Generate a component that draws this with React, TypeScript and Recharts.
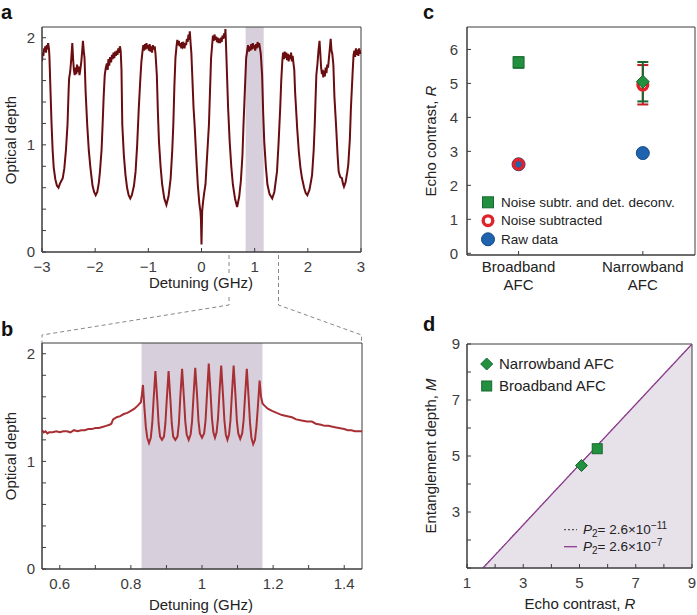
import React from 'react';
import { LineChart, Line, XAxis, YAxis, ReferenceArea, ComposedChart, Scatter, ErrorBar, Area } from 'recharts';

const FONT = '"Liberation Sans", Arial, Helvetica, sans-serif';
const AXIS = '#3c3c3c';
const TEXT = '#222';
const SHADE = '#d7d0dc';
const GREEN = '#22903f';
const GREEN_DARK = '#17692e';
const RED = '#e0222b';
const BLUE = '#1f62ad';
const PURPLE = '#8e3b90';

// panel a: optical depth over the full inhomogeneous line [detuning GHz, OD]
const spectrumA: [number, number][] = [
  [-3.0, 1.78], [-2.99, 1.86], [-2.975, 1.83], [-2.96, 1.9], [-2.95, 1.87], [-2.94, 1.92], [-2.925, 1.86],
  [-2.91, 1.93], [-2.9, 1.89], [-2.885, 1.95], [-2.87, 1.9], [-2.86, 1.82], [-2.84, 1.5], [-2.82, 1.19],
  [-2.8, 0.95], [-2.78, 0.79], [-2.75, 0.68], [-2.72, 0.62], [-2.69, 0.6], [-2.66, 0.64], [-2.63, 0.67],
  [-2.61, 0.69], [-2.58, 0.78], [-2.55, 0.95], [-2.52, 1.19], [-2.5, 1.5], [-2.49, 1.62], [-2.47, 1.68],
  [-2.45, 1.8], [-2.43, 1.95], [-2.415, 1.8], [-2.4, 1.7], [-2.385, 1.65], [-2.37, 1.72], [-2.355, 1.66],
  [-2.34, 1.75], [-2.325, 1.68], [-2.31, 1.73], [-2.295, 1.65], [-2.28, 1.7], [-2.26, 1.78], [-2.24, 1.9],
  [-2.23, 1.97], [-2.215, 1.88], [-2.2, 1.81], [-2.18, 1.5], [-2.15, 1.19], [-2.12, 0.95], [-2.09, 0.79],
  [-2.05, 0.62], [-2.02, 0.56], [-1.99, 0.53], [-1.96, 0.56], [-1.93, 0.65], [-1.91, 0.75], [-1.88, 0.95],
  [-1.86, 1.19], [-1.84, 1.45], [-1.82, 1.65], [-1.8, 1.72], [-1.78, 1.76], [-1.765, 1.7], [-1.75, 1.8],
  [-1.735, 1.74], [-1.72, 1.82], [-1.7, 1.77], [-1.685, 1.84], [-1.67, 1.8], [-1.655, 1.86], [-1.64, 1.81],
  [-1.625, 1.87], [-1.61, 1.83], [-1.595, 1.88], [-1.58, 1.84], [-1.565, 1.9], [-1.55, 1.86], [-1.535, 1.92],
  [-1.52, 1.88], [-1.505, 1.7], [-1.49, 1.19], [-1.46, 0.9], [-1.43, 0.72], [-1.4, 0.6], [-1.37, 0.53],
  [-1.34, 0.5], [-1.31, 0.53], [-1.27, 0.62], [-1.24, 0.75], [-1.21, 1.0], [-1.18, 1.34], [-1.15, 1.62],
  [-1.13, 1.78], [-1.11, 1.87], [-1.095, 1.93], [-1.08, 1.88], [-1.065, 1.94], [-1.05, 1.89], [-1.035, 1.95],
  [-1.02, 1.9], [-1.005, 1.93], [-0.99, 1.88], [-0.975, 1.94], [-0.96, 1.87], [-0.945, 1.92], [-0.93, 1.86],
  [-0.915, 1.93], [-0.9, 1.89], [-0.88, 1.92], [-0.865, 1.85], [-0.84, 1.65], [-0.82, 1.3], [-0.8, 1.03],
  [-0.77, 0.8], [-0.74, 0.63], [-0.7, 0.5], [-0.66, 0.44], [-0.62, 0.52], [-0.58, 0.69], [-0.55, 0.95],
  [-0.53, 1.19], [-0.51, 1.55], [-0.49, 1.81], [-0.47, 1.92], [-0.455, 1.98], [-0.44, 1.93], [-0.425, 1.97],
  [-0.41, 1.92], [-0.395, 1.95], [-0.38, 1.9], [-0.365, 1.96], [-0.35, 1.92], [-0.335, 1.94], [-0.32, 1.9],
  [-0.305, 1.95], [-0.29, 1.93], [-0.275, 1.99], [-0.26, 1.96], [-0.245, 2.03], [-0.23, 1.98], [-0.22, 2.06],
  [-0.205, 1.95], [-0.19, 1.85], [-0.17, 1.6], [-0.15, 1.35], [-0.13, 1.19], [-0.1, 0.9], [-0.07, 0.63],
  [-0.04, 0.45], [-0.02, 0.38], [-0.01, 0.3], [0, 0.07], [0.005, 0.2], [0.012, 0.38], [0.03, 0.47],
  [0.05, 0.55], [0.075, 0.63], [0.1, 0.85], [0.12, 1.02], [0.14, 1.19], [0.16, 1.5], [0.18, 1.81],
  [0.2, 1.93], [0.215, 2.02], [0.23, 1.97], [0.245, 2.03], [0.26, 1.98], [0.275, 2.01], [0.29, 1.96],
  [0.305, 2.0], [0.32, 1.95], [0.335, 1.99], [0.35, 1.95], [0.365, 2.0], [0.38, 1.96], [0.395, 2.02],
  [0.41, 1.99], [0.425, 2.04], [0.44, 2.0], [0.45, 2.08], [0.46, 1.95], [0.48, 1.65], [0.5, 1.35],
  [0.53, 1.03], [0.56, 0.8], [0.59, 0.63], [0.63, 0.5], [0.67, 0.42], [0.71, 0.52], [0.74, 0.66],
  [0.77, 0.9], [0.79, 1.19], [0.815, 1.5], [0.84, 1.81], [0.86, 1.88], [0.875, 1.93], [0.89, 1.87],
  [0.905, 1.92], [0.92, 1.88], [0.935, 1.94], [0.95, 1.89], [0.965, 1.95], [0.98, 1.9], [0.995, 1.93],
  [1.01, 1.88], [1.025, 1.94], [1.04, 1.9], [1.055, 1.96], [1.07, 1.91], [1.085, 1.95], [1.1, 1.9],
  [1.115, 1.85], [1.14, 1.65], [1.16, 1.3], [1.18, 1.03], [1.21, 0.8], [1.24, 0.63], [1.28, 0.54],
  [1.33, 0.5], [1.37, 0.56], [1.42, 0.75], [1.45, 1.02], [1.48, 1.34], [1.5, 1.6], [1.52, 1.78],
  [1.535, 1.86], [1.55, 1.8], [1.565, 1.87], [1.58, 1.81], [1.595, 1.86], [1.61, 1.79], [1.625, 1.85],
  [1.64, 1.78], [1.655, 1.84], [1.67, 1.8], [1.685, 1.86], [1.7, 1.78], [1.715, 1.83], [1.73, 1.76],
  [1.745, 1.7], [1.76, 1.5], [1.8, 1.15], [1.83, 0.94], [1.86, 0.79], [1.89, 0.69], [1.93, 0.6],
  [1.96, 0.55], [1.99, 0.53], [2.03, 0.58], [2.06, 0.66], [2.08, 0.72], [2.11, 0.95], [2.13, 1.19],
  [2.15, 1.5], [2.16, 1.65], [2.18, 1.75], [2.2, 1.88], [2.22, 1.97], [2.235, 1.85], [2.25, 1.72],
  [2.265, 1.66], [2.28, 1.7], [2.29, 1.63], [2.305, 1.69], [2.32, 1.64], [2.335, 1.72], [2.35, 1.67],
  [2.365, 1.75], [2.38, 1.72], [2.395, 1.8], [2.41, 1.88], [2.43, 1.99], [2.445, 1.88], [2.46, 1.85],
  [2.48, 1.75], [2.5, 1.45], [2.53, 1.19], [2.56, 0.9], [2.58, 0.75], [2.61, 0.7], [2.64, 0.69],
  [2.66, 0.64], [2.68, 0.61], [2.71, 0.65], [2.74, 0.74], [2.76, 0.81], [2.79, 1.05], [2.81, 1.34],
  [2.84, 1.65], [2.86, 1.84], [2.875, 1.88], [2.89, 1.82], [2.905, 1.9], [2.92, 1.84], [2.935, 1.89],
  [2.95, 1.83], [2.965, 1.9], [2.98, 1.85], [3.0, 1.88],
];

// panel b: zoom on the narrowband comb [detuning GHz, OD]
const spectrumB: [number, number][] = [
  [0.55, 1.29], [0.555, 1.27], [0.56, 1.28], [0.565, 1.26], [0.57, 1.27], [0.58, 1.27], [0.59, 1.28],
  [0.6, 1.27], [0.61, 1.28], [0.62, 1.28], [0.63, 1.27], [0.64, 1.29], [0.65, 1.28], [0.66, 1.29],
  [0.67, 1.29], [0.68, 1.3], [0.69, 1.3], [0.7, 1.31], [0.71, 1.31], [0.72, 1.32], [0.73, 1.33],
  [0.74, 1.34], [0.745, 1.35], [0.75, 1.39], [0.76, 1.41], [0.77, 1.42], [0.78, 1.44], [0.79, 1.45],
  [0.8, 1.47], [0.81, 1.49], [0.82, 1.52], [0.828, 1.55], [0.831, 1.62], [0.834, 1.71],
  [0.838, 1.5], [0.842, 1.32], [0.846, 1.22], [0.851, 1.17], [0.856, 1.22], [0.86, 1.35], [0.864, 1.58],
  [0.869, 1.84], [0.874, 1.58], [0.878, 1.35], [0.882, 1.23], [0.8875, 1.2], [0.893, 1.23], [0.897, 1.35],
  [0.901, 1.58], [0.906, 1.84], [0.911, 1.58], [0.915, 1.35], [0.919, 1.23], [0.925, 1.2], [0.931, 1.23],
  [0.935, 1.35], [0.939, 1.6], [0.944, 1.86], [0.949, 1.6], [0.953, 1.37], [0.957, 1.25], [0.9625, 1.2],
  [0.968, 1.25], [0.972, 1.37], [0.976, 1.6], [0.981, 1.87], [0.986, 1.62], [0.99, 1.38], [0.994, 1.26],
  [1.0, 1.22], [1.006, 1.26], [1.01, 1.38], [1.014, 1.62], [1.019, 1.91], [1.024, 1.64], [1.028, 1.4],
  [1.032, 1.27], [1.0365, 1.22], [1.041, 1.27], [1.045, 1.4], [1.049, 1.63], [1.054, 1.89], [1.059, 1.62],
  [1.063, 1.38], [1.067, 1.25], [1.0715, 1.2], [1.076, 1.25], [1.08, 1.38], [1.084, 1.62], [1.089, 1.89],
  [1.094, 1.62], [1.098, 1.38], [1.102, 1.26], [1.1075, 1.21], [1.113, 1.26], [1.117, 1.38], [1.121, 1.6],
  [1.126, 1.86], [1.131, 1.6], [1.135, 1.36], [1.139, 1.22], [1.144, 1.16], [1.149, 1.2], [1.153, 1.32],
  [1.157, 1.5], [1.162, 1.75], [1.166, 1.6], [1.17, 1.54], [1.175, 1.52], [1.185, 1.49], [1.197, 1.47],
  [1.21, 1.45], [1.225, 1.43], [1.24, 1.42], [1.253, 1.41], [1.265, 1.39], [1.28, 1.38], [1.295, 1.37],
  [1.309, 1.37], [1.32, 1.35], [1.335, 1.34], [1.345, 1.33], [1.356, 1.33], [1.37, 1.32], [1.385, 1.31],
  [1.4, 1.3], [1.41, 1.29], [1.42, 1.29], [1.43, 1.28], [1.445, 1.28], [1.45, 1.28],
];

const afcBand = [0.83, 1.17];
const detuningTicksA = [-3, -2, -1, 0, 1, 2, 3];
const detuningTicksB = [0.6, 0.7, 0.8, 0.9, 1, 1.1, 1.2, 1.3, 1.4];
const detuningLabelsB = [0.6, 0.8, 1, 1.2, 1.4];
const odTicks = [0, 0.2, 0.4, 0.6, 0.8, 1, 1.2, 1.4, 1.6, 1.8, 2];

// panel c: echo contrast per AFC type (broadband, narrowband)
const afcTypes = ['Broadband AFC', 'Narrowband AFC'];
const rawContrast = [2.62, 2.95];
const noiseSubContrast = [2.62, 4.95];
const noiseSubErr: ([number, number] | null)[] = [null, [0.57, 0.59]];
const deconvContrast = [5.62, 5.05];
const deconvErr: [number, number][] = [[0.16, 0.15], [0.58, 0.58]];
const contrastTicks = [0, 1, 2, 3, 4, 5, 6];

// panel d: entanglement depth bound vs echo contrast
const boundContrast = [1.57, 9];
const boundDepth = [1, 9];
const boundContrastLowP = [1.56, 9];
const narrowbandPoint = { R: 5.07, M: 4.66 };
const broadbandPoint = { R: 5.63, M: 5.26 };
const depthTicks = [1, 2, 3, 4, 5, 6, 7, 8, 9];

const dataA = spectrumA.map(([x, y]) => ({ x, y }));
const dataB = spectrumB.map(([x, y]) => ({ x, y }));
const rawData = rawContrast.map((y, i) => ({ x: i + 1, y }));
const noiseData = noiseSubContrast.map((y, i) => ({ x: i + 1, y, err: noiseSubErr[i] }));
const deconvData = deconvContrast.map((y, i) => ({ x: i + 1, y, err: deconvErr[i], kind: i === 0 ? 'square' : 'diamond' }));
const boundData = boundContrast.map((R, i) => ({ R, M: boundDepth[i] }));
const boundDataLowP = boundContrastLowP.map((R, i) => ({ R, M: boundDepth[i] }));

// shared axis look: inward ticks, labels set via svg props on the axis itself
const axisText = { fontSize: 15, fontFamily: FONT, stroke: AXIS };
const minus = (v: number) => (v < 0 ? `\u2212${Math.abs(v)}` : `${v}`);
const integersOnly = (v: number) => (Number.isInteger(v) ? `${v}` : '');

const Square = ({ cx, cy, side = 11 }: any) => (
  <rect x={cx - side / 2} y={cy - side / 2} width={side} height={side} fill={GREEN} stroke={GREEN_DARK} strokeWidth={1} />
);
const Diamond = ({ cx, cy, half = 6.5 }: any) => (
  <polygon points={`${cx},${cy - half} ${cx + half},${cy} ${cx},${cy + half} ${cx - half},${cy}`} fill={GREEN} stroke={GREEN_DARK} strokeWidth={1} />
);
const Ring = ({ cx, cy }: any) => <circle cx={cx} cy={cy} r={4.8} fill="none" stroke={RED} strokeWidth={3.4} />;
const Dot = ({ cx, cy }: any) => <circle cx={cx} cy={cy} r={6.5} fill={BLUE} stroke="#174b86" strokeWidth={1} />;

const CategoryTick = ({ x, y, payload }: any) => {
  const words = afcTypes[payload.value - 1].split(' ');
  return (
    <text x={x} y={y} textAnchor="middle" fontSize={15} fill={TEXT} fontFamily={FONT}>
      <tspan x={x} dy="0.71em">{words[0]}</tspan>
      <tspan x={x} dy="1.22em">{words[1]}</tspan>
    </text>
  );
};

// the plot box, drawn on the data domain so it sits on the axes
const Frame = ({ x, y }: { x: number[]; y: number[] }) => (
  <ReferenceArea x1={x[0]} x2={x[1]} y1={y[0]} y2={y[1]} fill="none" stroke={AXIS} strokeWidth={1} ifOverflow="visible" />
);

function PanelA() {
  return (
    <LineChart width={370} height={290} data={dataA} margin={{ top: 27, right: 9, bottom: 0, left: 0 }}>
      <ReferenceArea x1={afcBand[0]} x2={afcBand[1]} y1={0} y2={2.1} fill={SHADE} fillOpacity={1} stroke="none" />
      <XAxis type="number" dataKey="x" domain={[-3, 3]} ticks={detuningTicksA} tickFormatter={minus} height={38}
        tickSize={-4} tickMargin={13} {...axisText} allowDataOverflow />
      <YAxis type="number" domain={[0, 2.1]} ticks={odTicks} tickFormatter={integersOnly} width={42}
        tickSize={-4} tickMargin={11} {...axisText} allowDataOverflow />
      <Line type="linear" dataKey="y" stroke="#6a0d10" strokeWidth={2} dot={false} isAnimationActive={false} />
      {Frame({ x: [-3, 3], y: [0, 2.1] })}
    </LineChart>
  );
}

function PanelB() {
  return (
    <LineChart width={370} height={315} data={dataB} margin={{ top: 43, right: 8, bottom: 0, left: 0 }}>
      <ReferenceArea x1={afcBand[0]} x2={afcBand[1]} y1={0} y2={2.1} fill={SHADE} fillOpacity={1} stroke="none" />
      <XAxis type="number" dataKey="x" domain={[0.55, 1.45]} ticks={detuningTicksB}
        tickFormatter={(v: number) => (detuningLabelsB.includes(v) ? `${v}` : '')} height={46}
        tickSize={-4} tickMargin={13} {...axisText} allowDataOverflow />
      <YAxis type="number" domain={[0, 2.1]} ticks={odTicks} tickFormatter={integersOnly} width={42}
        tickSize={-4} tickMargin={11} {...axisText} allowDataOverflow />
      <Line type="linear" dataKey="y" stroke="#a83034" strokeWidth={2} dot={false} isAnimationActive={false} />
      {Frame({ x: [0.55, 1.45], y: [0, 2.1] })}
    </LineChart>
  );
}

function PanelC() {
  return (
    <ComposedChart width={327} height={300} margin={{ top: 27, right: 2, bottom: 0, left: 0 }}>
      <XAxis type="number" dataKey="x" domain={[0.585, 2.42]} ticks={[1, 2]} tick={<CategoryTick />} height={45}
        tickSize={-4} tickMargin={10} stroke={AXIS} allowDataOverflow />
      <YAxis type="number" dataKey="y" domain={[-0.05, 6.66]} ticks={contrastTicks} width={97}
        tickSize={-4} tickMargin={13} {...axisText} allowDataOverflow />
      <Scatter data={rawData} shape={<Dot />} isAnimationActive={false} />
      <Scatter data={noiseData} shape={<Ring />} isAnimationActive={false}>
        <ErrorBar dataKey="err" direction="y" width={5.5} stroke="#c41e26" strokeWidth={2} />
      </Scatter>
      <Scatter data={deconvData} isAnimationActive={false}
        shape={(p: any) => (p.payload.kind === 'square' ? <Square cx={p.cx} cy={p.cy} /> : <Diamond cx={p.cx} cy={p.cy} />)}>
        <ErrorBar dataKey="err" direction="y" width={5.5} stroke={GREEN_DARK} strokeWidth={2} />
      </Scatter>
      {Frame({ x: [0.585, 2.42], y: [-0.05, 6.66] })}
    </ComposedChart>
  );
}

function PanelD() {
  return (
    <ComposedChart width={327} height={315} margin={{ top: 44, right: 5, bottom: 0, left: 0 }}>
      <XAxis type="number" dataKey="R" domain={[1, 9]} ticks={depthTicks} tickFormatter={(v: number) => (v % 2 === 1 ? `${v}` : '')}
        height={47} tickSize={-4} tickMargin={13} {...axisText} allowDataOverflow />
      <YAxis type="number" dataKey="M" domain={[1, 9]} ticks={depthTicks} tickFormatter={(v: number) => (v % 2 === 1 && v > 1 ? `${v}` : '')}
        width={97} tickSize={-4} tickMargin={11} {...axisText} allowDataOverflow />
      <Area data={boundData} dataKey="M" type="linear" baseValue={1} fill="#e7e1ea" fillOpacity={1} stroke="none" isAnimationActive={false} />
      <Line data={boundDataLowP} dataKey="M" type="linear" stroke="#333" strokeWidth={1} strokeDasharray="2 2" dot={false} isAnimationActive={false} />
      <Line data={boundData} dataKey="M" type="linear" stroke={PURPLE} strokeWidth={1.3} dot={false} isAnimationActive={false} />
      <Scatter data={[narrowbandPoint]} shape={(p: any) => <Diamond cx={p.cx} cy={p.cy} half={6} />} isAnimationActive={false} />
      <Scatter data={[broadbandPoint]} shape={(p: any) => <Square cx={p.cx} cy={p.cy} side={10} />} isAnimationActive={false} />
      {Frame({ x: [1, 9], y: [1, 9] })}
    </ComposedChart>
  );
}

const P2 = ({ x, y, exp }: { x: number; y: number; exp: string }) => (
  <text x={x} y={y} dy="0.35em" fontSize={13.5} fill={TEXT} fontFamily={FONT}>
    <tspan fontStyle="italic">P</tspan>
    <tspan fontSize={10} dy="3">2</tspan>
    <tspan dy="-3">= 2.6×10</tspan>
    <tspan fontSize={10} dy="-5">{exp}</tspan>
  </text>
);

function Overlay() {
  const label = { fontSize: 15, fill: TEXT, fontFamily: FONT };
  const letter = { fontSize: 20, fontWeight: 700, fill: '#111', fontFamily: FONT };
  const dash = { stroke: '#888', strokeWidth: 1, strokeDasharray: '4 3', fill: 'none' };
  return (
    <svg width={697} height={615} style={{ position: 'absolute', left: 0, top: 0, pointerEvents: 'none' }}>
      <text x={1} y={19} {...letter}>a</text>
      <text x={1} y={336} {...letter}>b</text>
      <text x={423} y={19} {...letter}>c</text>
      <text x={423} y={331} {...letter}>d</text>

      <text transform="translate(16,140) rotate(-90)" textAnchor="middle" {...label}>Optical depth</text>
      <text transform="translate(16,456) rotate(-90)" textAnchor="middle" {...label}>Optical depth</text>
      <text x={201} y={288} textAnchor="middle" {...label}>Detuning (GHz)</text>
      <text x={201} y={610} textAnchor="middle" {...label}>Detuning (GHz)</text>
      <text transform="translate(436,141) rotate(-90)" textAnchor="middle" {...label}>
        Echo contrast, <tspan fontStyle="italic">R</tspan>
      </text>
      <text transform="translate(436,456) rotate(-90)" textAnchor="middle" {...label}>
        Entanglement depth, <tspan fontStyle="italic">M</tspan>
      </text>
      <text x={580} y={609} textAnchor="middle" {...label}>
        Echo contrast, <tspan fontStyle="italic">R</tspan>
      </text>

      {/* zoom connectors between a and b */}
      <path d="M229,255 V273 M229,297 V305 L42,335 V343" {...dash} />
      <path d="M278.5,255 V305 L361.5,335 V343" {...dash} />

      {/* legend c */}
      <rect x={482.5} y={196.8} width={11} height={11} fill={GREEN} stroke={GREEN_DARK} />
      <circle cx={488} cy={220.7} r={4.8} fill="#fff" stroke={RED} strokeWidth={3.4} />
      <circle cx={488} cy={239.3} r={6.5} fill={BLUE} stroke="#174b86" />
      <g fontSize={13.5} fill={TEXT} fontFamily={FONT}>
        <text x={501} y={202.3} dy="0.35em">Noise subtr. and det. deconv.</text>
        <text x={501} y={220.7} dy="0.35em">Noise subtracted</text>
        <text x={501} y={239.3} dy="0.35em">Raw data</text>
      </g>

      {/* legend d */}
      <polygon points="486.7,358 492.7,364 486.7,370 480.7,364" fill={GREEN} stroke={GREEN_DARK} />
      <rect x={481.7} y={381} width={10} height={10} fill={GREEN} stroke={GREEN_DARK} />
      <g fontSize={15} fill={TEXT} fontFamily={FONT}>
        <text x={499} y={364} dy="0.35em">Narrowband AFC</text>
        <text x={499} y={386} dy="0.35em">Broadband AFC</text>
      </g>
      <line x1={564} x2={577} y1={529.7} y2={529.7} stroke="#333" strokeDasharray="2 2" />
      <line x1={564} x2={577} y1={546.7} y2={546.7} stroke={PURPLE} strokeWidth={1.3} />
      <P2 x={583} y={529.7} exp={'\u221211'} />
      <P2 x={583} y={546.7} exp={'\u22127'} />
    </svg>
  );
}

export default function App() {
  return (
    <div style={{ position: 'relative', width: 697, height: 615, background: '#fff', fontFamily: FONT }}>
      <style>{'body{margin:0}'}</style>
      <div style={{ position: 'absolute', left: 0, top: 0 }}><PanelA /></div>
      <div style={{ position: 'absolute', left: 0, top: 300 }}><PanelB /></div>
      <div style={{ position: 'absolute', left: 370, top: 0 }}><PanelC /></div>
      <div style={{ position: 'absolute', left: 370, top: 300 }}><PanelD /></div>
      <Overlay />
    </div>
  );
}
